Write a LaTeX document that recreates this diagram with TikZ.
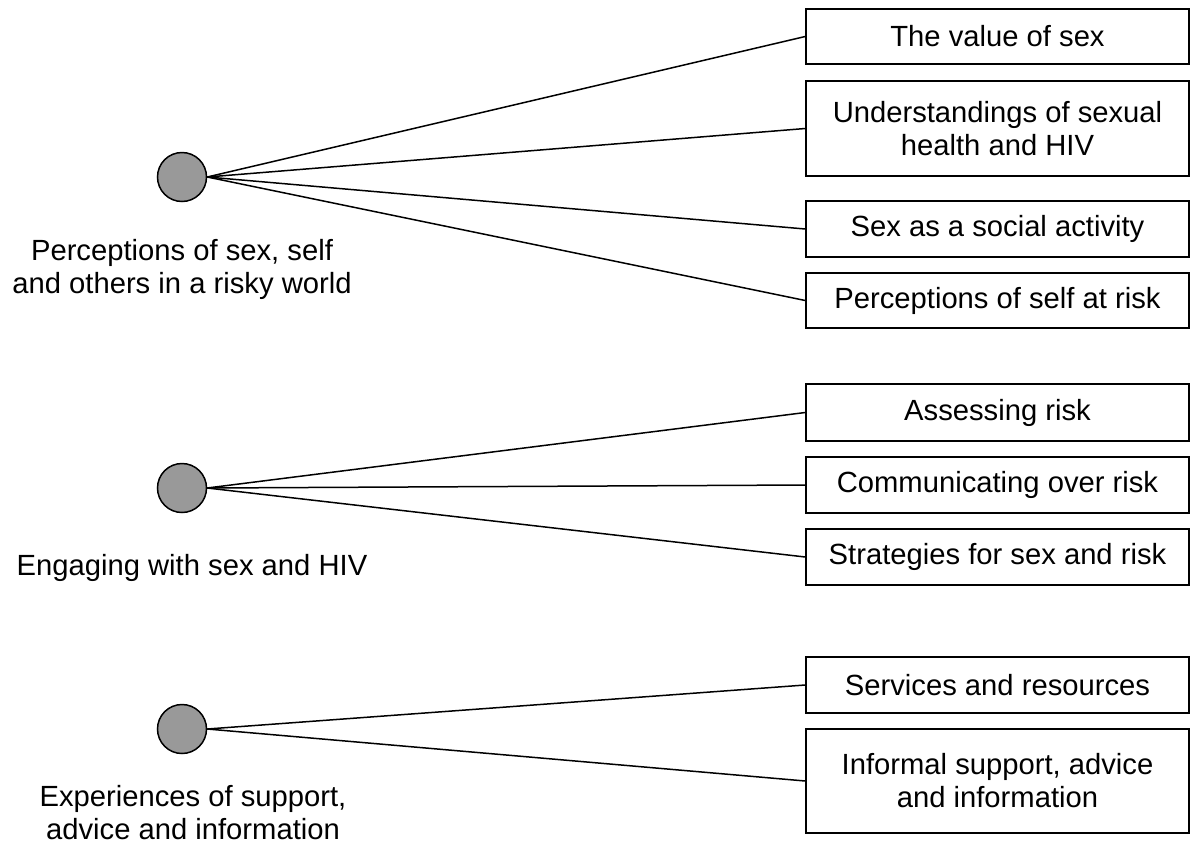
\documentclass[tikz,border=0pt]{standalone}
\usepackage{fontspec}
\setmainfont{Liberation Sans}

\begin{document}
\begin{tikzpicture}[x=0.5pt,y=-0.5pt,
    theme/.style={draw=black, circle, fill=black!40, minimum size=24.5pt, inner sep=0pt, line width=0.75pt},
    topic/.style={draw=black, rectangle, minimum width=191.5pt, align=center, inner sep=2pt, line width=0.75pt},
    themename/.style={align=center}]
    \useasboundingbox (0,0) rectangle (1190,852);
    \begin{scope}[font=\fontsize{14.6}{16.5}\selectfont]
    % Themes:
    % One grey circle per theme, with its name set below it
    \node [theme] (perc) at (182,177) {};
    \node [theme] (eng) at (182,488) {};
    \node [theme] (exp) at (182,729) {};
    \node [themename] (perc-txt) at (182,269) {Perceptions of sex, self\\and others in a risky world};
    \node [themename] (eng-txt) at (192,568) {Engaging with sex and HIV};
    \node [themename] (exp-txt) at (193,813) {Experiences of support,\\advice and information};

    % Subthemes:
    % Boxes on the right, all of the same width
    \node [topic, minimum height=27.5pt] (value) at (997.5,36.5) {The value of sex};
    \node [topic, minimum height=47.5pt] (underst) at (997.5,128.5) {Understandings of sexual\\health and HIV};
    \node [topic, minimum height=28pt] (social) at (997.5,229) {Sex as a social activity};
    \node [topic, minimum height=27.5pt] (selfrisk) at (997.5,300.5) {Perceptions of self at risk};
    \node [topic, minimum height=28.5pt] (assess) at (997.5,412.5) {Assessing risk};
    \node [topic, minimum height=28pt] (commun) at (997.5,485) {Communicating over risk};
    \node [topic, minimum height=28pt] (strat) at (997.5,557) {Strategies for sex and risk};
    \node [topic, minimum height=28pt] (serv) at (997.5,685) {Services and resources};
    \node [topic, minimum height=52pt] (inform) at (997.5,781) {Informal support, advice\\and information};

    % Connectors:
    % Fanning out from the right side of each circle
    \foreach \t in {value,underst,social,selfrisk}
        \draw [line width=0.75pt] (perc.east) -- (\t.west);
    \foreach \t in {assess,commun,strat}
        \draw [line width=0.75pt] (eng.east) -- (\t.west);
    \foreach \t in {serv,inform}
        \draw [line width=0.75pt] (exp.east) -- (\t.west);
    \end{scope}
\end{tikzpicture}
\end{document}
